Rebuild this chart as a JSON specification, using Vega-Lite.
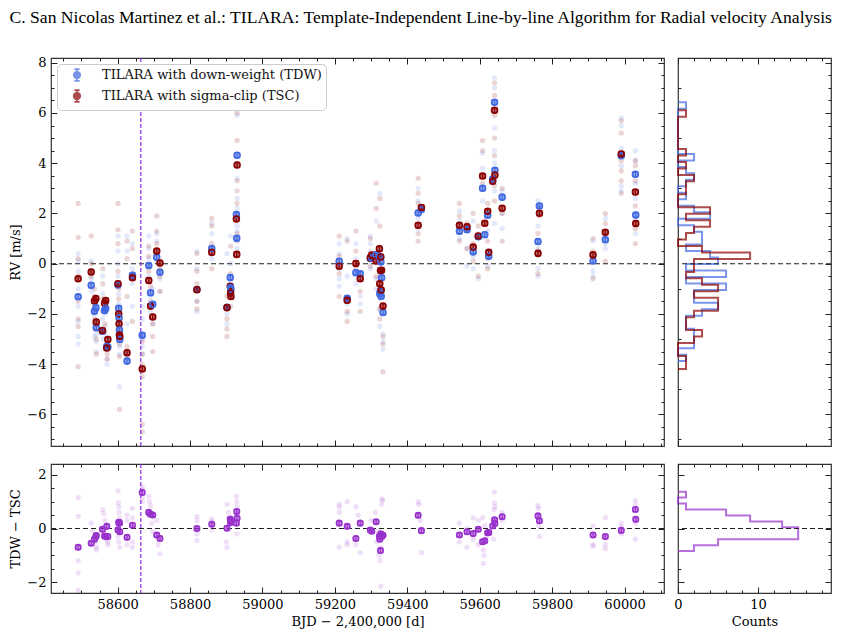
{
  "$schema": "https://vega.github.io/schema/vega-lite/v6.json",
  "padding": {"left": 8, "top": 8, "right": 5, "bottom": 5},
  "title": {"text": "C. San Nicolas Martinez et al.: TILARA: Template-Independent Line-by-line Algorithm for Radial velocity Analysis", "font": "Liberation Serif", "fontSize": 17.6, "fontWeight": "normal", "color": "#000", "anchor": "middle", "frame": "bounds", "offset": 30},
  "config": {
    "view": {"stroke": "#333", "strokeWidth": 1.2},
    "axis": {"domain": false, "grid": false, "labelFont": "DejaVu Serif", "labelFontSize": 13, "labelColor": "#000", "titleFont": "DejaVu Serif", "titleFontSize": 13, "titleFontWeight": "normal", "titleColor": "#000", "tickColor": "#222", "tickWidth": 1, "labelPadding": 11, "format": "d", "labelOverlap": false, "labelFlush": false},
    "legend": {"labelFont": "DejaVu Serif", "labelFontSize": 13, "labelColor": "#111", "labelLimit": 400}
  },
  "resolve": {"scale": {"color": "independent"}, "legend": {"color": "independent"}},
  "datasets": {
    "bin": [
      {"t":58491,"TDW":-1.32,"TSC":-0.60,"e":0.1,"d":-0.70,"ed":0.08},
      {"t":58527,"TDW":-0.86,"TSC":-0.33,"e":0.1,"d":-0.55,"ed":0.08},
      {"t":58536,"TDW":-1.89,"TSC":-1.49,"e":0.1,"d":-0.40,"ed":0.08},
      {"t":58540,"TDW":-1.76,"TSC":-1.39,"e":0.1,"d":-0.30,"ed":0.08},
      {"t":58541,"TDW":-2.55,"TSC":-2.32,"e":0.1,"d":-0.26,"ed":0.08},
      {"t":58558,"TDW":-2.69,"TSC":-2.66,"e":0.1,"d":-0.03,"ed":0.08},
      {"t":58564,"TDW":-1.86,"TSC":-1.58,"e":0.1,"d":-0.28,"ed":0.08},
      {"t":58567,"TDW":-1.78,"TSC":-1.47,"e":0.1,"d":-0.30,"ed":0.08},
      {"t":58573,"TDW":-3.32,"TSC":-3.02,"e":0.1,"d":-0.30,"ed":0.08},
      {"t":58570,"TDW":-3.30,"TSC":-3.36,"e":0.1,"d":0.08,"ed":0.08},
      {"t":58601,"TDW":-0.85,"TSC":-0.80,"e":0.1,"d":-0.05,"ed":0.08},
      {"t":58603,"TDW":-1.78,"TSC":-2.00,"e":0.1,"d":0.22,"ed":0.08},
      {"t":58604,"TDW":-2.16,"TSC":-2.39,"e":0.1,"d":0.23,"ed":0.08},
      {"t":58605,"TDW":-2.64,"TSC":-2.84,"e":0.1,"d":0.20,"ed":0.08},
      {"t":58606,"TDW":-3.02,"TSC":-2.90,"e":0.1,"d":-0.12,"ed":0.08},
      {"t":58626,"TDW":-3.88,"TSC":-3.55,"e":0.1,"d":-0.33,"ed":0.08},
      {"t":58641,"TDW":-0.46,"TSC":-0.56,"e":0.1,"d":0.12,"ed":0.08},
      {"t":58668,"TDW":-2.85,"TSC":-4.19,"e":0.1,"d":1.34,"ed":0.08},
      {"t":58686,"TDW":-0.07,"TSC":-0.67,"e":0.1,"d":0.60,"ed":0.08},
      {"t":58691,"TDW":-1.16,"TSC":-1.69,"e":0.1,"d":0.53,"ed":0.08},
      {"t":58697,"TDW":-1.62,"TSC":-2.12,"e":0.1,"d":0.50,"ed":0.08},
      {"t":58708,"TDW":0.26,"TSC":0.50,"e":0.1,"d":-0.24,"ed":0.08},
      {"t":58717,"TDW":-0.34,"TSC":0.03,"e":0.1,"d":-0.37,"ed":0.08},
      {"t":58819,"TDW":-1.03,"TSC":-1.04,"e":0.1,"d":0.00,"ed":0.08},
      {"t":58860,"TDW":0.60,"TSC":0.45,"e":0.1,"d":0.16,"ed":0.08},
      {"t":58902,"TDW":-1.74,"TSC":-1.75,"e":0.1,"d":0.01,"ed":0.08},
      {"t":58911,"TDW":-0.55,"TSC":-0.90,"e":0.1,"d":0.35,"ed":0.08},
      {"t":58913,"TDW":-1.03,"TSC":-1.31,"e":0.1,"d":0.28,"ed":0.08},
      {"t":58912,"TDW":-0.95,"TSC":-1.17,"e":0.1,"d":0.22,"ed":0.08},
      {"t":58930,"TDW":4.32,"TSC":3.93,"e":0.1,"d":0.38,"ed":0.08},
      {"t":58928,"TDW":1.96,"TSC":1.78,"e":0.1,"d":0.20,"ed":0.08},
      {"t":58929,"TDW":1.01,"TSC":0.37,"e":0.1,"d":0.63,"ed":0.08},
      {"t":59212,"TDW":0.10,"TSC":-0.10,"e":0.1,"d":0.20,"ed":0.08},
      {"t":59234,"TDW":-1.38,"TSC":-1.46,"e":0.1,"d":0.08,"ed":0.08},
      {"t":59258,"TDW":-0.36,"TSC":0.01,"e":0.1,"d":-0.37,"ed":0.08},
      {"t":59270,"TDW":-0.40,"TSC":-0.60,"e":0.1,"d":0.20,"ed":0.08},
      {"t":59298,"TDW":0.21,"TSC":0.24,"e":0.1,"d":-0.06,"ed":0.08},
      {"t":59302,"TDW":0.24,"TSC":0.34,"e":0.1,"d":-0.10,"ed":0.08},
      {"t":59314,"TDW":0.36,"TSC":0.11,"e":0.1,"d":0.25,"ed":0.08},
      {"t":59323,"TDW":0.30,"TSC":0.59,"e":0.1,"d":-0.29,"ed":0.08},
      {"t":59327,"TDW":0.07,"TSC":0.27,"e":0.1,"d":-0.20,"ed":0.08},
      {"t":59329,"TDW":-0.56,"TSC":-0.26,"e":0.1,"d":-0.30,"ed":0.08},
      {"t":59324,"TDW":-1.20,"TSC":-0.80,"e":0.1,"d":-0.40,"ed":0.08},
      {"t":59326,"TDW":-1.09,"TSC":-0.27,"e":0.1,"d":-0.82,"ed":0.08},
      {"t":59328,"TDW":-1.30,"TSC":-1.05,"e":0.1,"d":-0.25,"ed":0.08},
      {"t":59333,"TDW":-1.94,"TSC":-1.69,"e":0.1,"d":-0.25,"ed":0.08},
      {"t":59430,"TDW":2.02,"TSC":1.53,"e":0.1,"d":0.49,"ed":0.08},
      {"t":59439,"TDW":2.16,"TSC":2.24,"e":0.1,"d":-0.08,"ed":0.08},
      {"t":59544,"TDW":1.29,"TSC":1.53,"e":0.1,"d":-0.24,"ed":0.08},
      {"t":59565,"TDW":1.35,"TSC":1.47,"e":0.1,"d":-0.12,"ed":0.08},
      {"t":59582,"TDW":0.47,"TSC":0.66,"e":0.1,"d":-0.19,"ed":0.08},
      {"t":59596,"TDW":1.07,"TSC":1.10,"e":0.1,"d":-0.03,"ed":0.08},
      {"t":59608,"TDW":3.00,"TSC":3.49,"e":0.1,"d":-0.49,"ed":0.08},
      {"t":59614,"TDW":1.15,"TSC":1.61,"e":0.1,"d":-0.46,"ed":0.08},
      {"t":59622,"TDW":1.93,"TSC":2.09,"e":0.1,"d":-0.16,"ed":0.08},
      {"t":59625,"TDW":0.30,"TSC":0.45,"e":0.1,"d":-0.15,"ed":0.08},
      {"t":59636,"TDW":3.37,"TSC":3.28,"e":0.1,"d":0.09,"ed":0.08},
      {"t":59641,"TDW":6.43,"TSC":6.11,"e":0.1,"d":0.32,"ed":0.08},
      {"t":59642,"TDW":3.72,"TSC":3.53,"e":0.1,"d":0.19,"ed":0.08},
      {"t":59662,"TDW":2.65,"TSC":2.21,"e":0.1,"d":0.44,"ed":0.08},
      {"t":59761,"TDW":0.88,"TSC":0.41,"e":0.1,"d":0.47,"ed":0.08},
      {"t":59765,"TDW":2.30,"TSC":2.01,"e":0.1,"d":0.29,"ed":0.08},
      {"t":59913,"TDW":0.11,"TSC":0.35,"e":0.1,"d":-0.24,"ed":0.08},
      {"t":59947,"TDW":0.95,"TSC":1.25,"e":0.1,"d":-0.30,"ed":0.08},
      {"t":59991,"TDW":4.30,"TSC":4.37,"e":0.1,"d":-0.07,"ed":0.08},
      {"t":60030,"TDW":3.56,"TSC":2.85,"e":0.1,"d":0.71,"ed":0.08},
      {"t":60031,"TDW":1.94,"TSC":1.60,"e":0.1,"d":0.34,"ed":0.08}
    ],
    "faint": [
      {"t":58491,"v":0.4,"g":"TDW"},{"t":58491,"v":0.1,"g":"TDW"},{"t":58491,"v":-0.3,"g":"TDW"},{"t":58491,"v":-1.0,"g":"TDW"},{"t":58491,"v":-1.7,"g":"TDW"},{"t":58491,"v":-2.3,"g":"TDW"},{"t":58491,"v":-2.9,"g":"TDW"},{"t":58491,"v":-3.2,"g":"TDW"},
      {"t":58527,"v":0.1,"g":"TDW"},{"t":58527,"v":-0.3,"g":"TDW"},{"t":58527,"v":-0.6,"g":"TDW"},{"t":58527,"v":-1.1,"g":"TDW"},
      {"t":58536,"v":-1.4,"g":"TDW"},{"t":58536,"v":-2.0,"g":"TDW"},{"t":58536,"v":-2.4,"g":"TDW"},{"t":58536,"v":-2.9,"g":"TDW"},
      {"t":58541,"v":-1.6,"g":"TDW"},{"t":58541,"v":-2.3,"g":"TDW"},{"t":58541,"v":-2.8,"g":"TDW"},{"t":58541,"v":-3.1,"g":"TDW"},{"t":58541,"v":-3.5,"g":"TDW"},
      {"t":58559,"v":-0.5,"g":"TDW"},{"t":58559,"v":-1.2,"g":"TDW"},{"t":58559,"v":-2.2,"g":"TDW"},{"t":58559,"v":-3.0,"g":"TDW"},
      {"t":58565,"v":-1.5,"g":"TDW"},{"t":58565,"v":-2.0,"g":"TDW"},{"t":58565,"v":-2.5,"g":"TDW"},
      {"t":58571,"v":-2.9,"g":"TDW"},{"t":58571,"v":-3.4,"g":"TDW"},{"t":58571,"v":-3.8,"g":"TDW"},{"t":58571,"v":-4.0,"g":"TDW"},
      {"t":58601,"v":1.1,"g":"TDW"},{"t":58601,"v":0.5,"g":"TDW"},{"t":58601,"v":0.0,"g":"TDW"},{"t":58601,"v":-0.5,"g":"TDW"},
      {"t":58603,"v":-1.2,"g":"TDW"},{"t":58603,"v":-1.6,"g":"TDW"},{"t":58603,"v":-2.4,"g":"TDW"},
      {"t":58605,"v":-2.8,"g":"TDW"},{"t":58605,"v":-3.3,"g":"TDW"},{"t":58605,"v":-3.6,"g":"TDW"},{"t":58605,"v":-4.9,"g":"TDW"},
      {"t":58626,"v":1.1,"g":"TDW"},{"t":58626,"v":0.5,"g":"TDW"},{"t":58626,"v":-2.4,"g":"TDW"},{"t":58626,"v":-3.6,"g":"TDW"},{"t":58626,"v":-3.8,"g":"TDW"},
      {"t":58641,"v":0.8,"g":"TDW"},{"t":58641,"v":-0.2,"g":"TDW"},{"t":58641,"v":-0.8,"g":"TDW"},{"t":58641,"v":-1.7,"g":"TDW"},
      {"t":58668,"v":-1.7,"g":"TDW"},{"t":58668,"v":-2.2,"g":"TDW"},{"t":58668,"v":-3.0,"g":"TDW"},{"t":58668,"v":-3.3,"g":"TDW"},{"t":58668,"v":-3.6,"g":"TDW"},
      {"t":58686,"v":1.1,"g":"TDW"},{"t":58686,"v":0.6,"g":"TDW"},{"t":58686,"v":0.2,"g":"TDW"},{"t":58686,"v":-0.5,"g":"TDW"},
      {"t":58691,"v":-1.3,"g":"TDW"},{"t":58691,"v":-1.9,"g":"TDW"},{"t":58697,"v":-1.0,"g":"TDW"},{"t":58697,"v":-2.4,"g":"TDW"},
      {"t":58708,"v":1.2,"g":"TDW"},{"t":58708,"v":0.9,"g":"TDW"},{"t":58708,"v":0.1,"g":"TDW"},{"t":58717,"v":-0.6,"g":"TDW"},{"t":58717,"v":-1.1,"g":"TDW"},
      {"t":58819,"v":0.5,"g":"TDW"},{"t":58819,"v":-0.2,"g":"TDW"},{"t":58819,"v":-1.5,"g":"TDW"},{"t":58819,"v":-1.9,"g":"TDW"},
      {"t":58860,"v":1.6,"g":"TDW"},{"t":58860,"v":1.2,"g":"TDW"},{"t":58860,"v":0.2,"g":"TDW"},
      {"t":58902,"v":0.4,"g":"TDW"},{"t":58902,"v":-2.0,"g":"TDW"},{"t":58902,"v":-2.4,"g":"TDW"},
      {"t":58912,"v":1.1,"g":"TDW"},{"t":58912,"v":0.0,"g":"TDW"},{"t":58912,"v":-0.7,"g":"TDW"},{"t":58912,"v":-1.3,"g":"TDW"},
      {"t":58930,"v":5.9,"g":"TDW"},{"t":58930,"v":3.4,"g":"TDW"},{"t":58930,"v":2.6,"g":"TDW"},{"t":58930,"v":2.2,"g":"TDW"},{"t":58930,"v":1.5,"g":"TDW"},{"t":58930,"v":1.3,"g":"TDW"},{"t":58930,"v":0.6,"g":"TDW"},
      {"t":59212,"v":0.8,"g":"TDW"},{"t":59212,"v":0.4,"g":"TDW"},{"t":59212,"v":-0.2,"g":"TDW"},{"t":59212,"v":-0.6,"g":"TDW"},{"t":59212,"v":-0.9,"g":"TDW"},
      {"t":59234,"v":1.0,"g":"TDW"},{"t":59234,"v":-0.5,"g":"TDW"},{"t":59234,"v":-1.6,"g":"TDW"},{"t":59234,"v":-2.0,"g":"TDW"},
      {"t":59258,"v":0.8,"g":"TDW"},{"t":59258,"v":0.2,"g":"TDW"},{"t":59258,"v":-0.8,"g":"TDW"},{"t":59270,"v":-1.3,"g":"TDW"},{"t":59270,"v":-1.6,"g":"TDW"},
      {"t":59298,"v":1.1,"g":"TDW"},{"t":59298,"v":0.8,"g":"TDW"},{"t":59298,"v":0.5,"g":"TDW"},{"t":59298,"v":-0.2,"g":"TDW"},
      {"t":59314,"v":1.7,"g":"TDW"},{"t":59314,"v":-0.6,"g":"TDW"},{"t":59314,"v":-1.0,"g":"TDW"},
      {"t":59324,"v":2.8,"g":"TDW"},{"t":59324,"v":-1.4,"g":"TDW"},{"t":59324,"v":-1.8,"g":"TDW"},{"t":59324,"v":-2.5,"g":"TDW"},
      {"t":59333,"v":-2.8,"g":"TDW"},{"t":59333,"v":-3.1,"g":"TDW"},{"t":59333,"v":-3.4,"g":"TDW"},
      {"t":59430,"v":3.0,"g":"TDW"},{"t":59430,"v":2.5,"g":"TDW"},{"t":59430,"v":1.8,"g":"TDW"},{"t":59430,"v":1.4,"g":"TDW"},
      {"t":59544,"v":2.1,"g":"TDW"},{"t":59544,"v":1.7,"g":"TDW"},{"t":59544,"v":1.0,"g":"TDW"},{"t":59565,"v":0.6,"g":"TDW"},{"t":59565,"v":-0.1,"g":"TDW"},
      {"t":59582,"v":1.7,"g":"TDW"},{"t":59582,"v":0.3,"g":"TDW"},{"t":59582,"v":-0.2,"g":"TDW"},{"t":59596,"v":1.2,"g":"TDW"},{"t":59596,"v":-0.6,"g":"TDW"},
      {"t":59608,"v":4.4,"g":"TDW"},{"t":59608,"v":3.8,"g":"TDW"},{"t":59608,"v":2.5,"g":"TDW"},
      {"t":59622,"v":1.3,"g":"TDW"},{"t":59622,"v":0.3,"g":"TDW"},{"t":59622,"v":-0.1,"g":"TDW"},
      {"t":59641,"v":7.4,"g":"TDW"},{"t":59641,"v":7.0,"g":"TDW"},{"t":59641,"v":5.4,"g":"TDW"},{"t":59641,"v":4.5,"g":"TDW"},{"t":59641,"v":4.0,"g":"TDW"},{"t":59641,"v":2.9,"g":"TDW"},{"t":59641,"v":1.6,"g":"TDW"},
      {"t":59662,"v":2.9,"g":"TDW"},{"t":59662,"v":2.0,"g":"TDW"},{"t":59662,"v":1.4,"g":"TDW"},
      {"t":59761,"v":2.5,"g":"TDW"},{"t":59761,"v":1.5,"g":"TDW"},{"t":59761,"v":0.6,"g":"TDW"},{"t":59761,"v":-0.2,"g":"TDW"},{"t":59761,"v":-0.5,"g":"TDW"},{"t":59765,"v":2.2,"g":"TDW"},
      {"t":59913,"v":0.9,"g":"TDW"},{"t":59913,"v":-0.3,"g":"TDW"},{"t":59913,"v":-0.5,"g":"TDW"},
      {"t":59947,"v":1.8,"g":"TDW"},{"t":59947,"v":0.8,"g":"TDW"},{"t":59947,"v":0.6,"g":"TDW"},
      {"t":59991,"v":5.8,"g":"TDW"},{"t":59991,"v":5.5,"g":"TDW"},{"t":59991,"v":4.6,"g":"TDW"},{"t":59991,"v":3.9,"g":"TDW"},{"t":59991,"v":3.1,"g":"TDW"},{"t":59991,"v":2.9,"g":"TDW"},
      {"t":60030,"v":4.5,"g":"TDW"},{"t":60030,"v":4.1,"g":"TDW"},{"t":60030,"v":3.2,"g":"TDW"},{"t":60030,"v":2.6,"g":"TDW"},{"t":60030,"v":1.8,"g":"TDW"},{"t":60030,"v":1.2,"g":"TDW"},
      {"t":58491,"v":2.4,"g":"TSC"},{"t":58491,"v":1.05,"g":"TSC"},{"t":58491,"v":0.2,"g":"TSC"},{"t":58491,"v":-0.5,"g":"TSC"},{"t":58491,"v":-1.5,"g":"TSC"},{"t":58491,"v":-2.2,"g":"TSC"},{"t":58491,"v":-2.5,"g":"TSC"},{"t":58491,"v":-4.1,"g":"TSC"},
      {"t":58527,"v":1.1,"g":"TSC"},{"t":58527,"v":0.0,"g":"TSC"},{"t":58527,"v":-0.5,"g":"TSC"},
      {"t":58536,"v":-1.0,"g":"TSC"},{"t":58536,"v":-1.3,"g":"TSC"},{"t":58536,"v":-1.8,"g":"TSC"},{"t":58536,"v":-2.2,"g":"TSC"},
      {"t":58541,"v":-2.6,"g":"TSC"},{"t":58541,"v":-3.0,"g":"TSC"},{"t":58541,"v":-3.6,"g":"TSC"},
      {"t":58559,"v":-0.2,"g":"TSC"},{"t":58559,"v":-0.8,"g":"TSC"},{"t":58559,"v":-1.4,"g":"TSC"},{"t":58559,"v":-1.9,"g":"TSC"},
      {"t":58565,"v":-2.4,"g":"TSC"},{"t":58565,"v":-2.7,"g":"TSC"},
      {"t":58571,"v":-3.2,"g":"TSC"},{"t":58571,"v":-3.6,"g":"TSC"},{"t":58571,"v":-3.8,"g":"TSC"},
      {"t":58601,"v":2.4,"g":"TSC"},{"t":58601,"v":1.35,"g":"TSC"},{"t":58601,"v":0.8,"g":"TSC"},{"t":58601,"v":-0.3,"g":"TSC"},
      {"t":58603,"v":-1.0,"g":"TSC"},{"t":58603,"v":-1.4,"g":"TSC"},{"t":58603,"v":-2.0,"g":"TSC"},
      {"t":58605,"v":-2.6,"g":"TSC"},{"t":58605,"v":-3.2,"g":"TSC"},{"t":58605,"v":-3.7,"g":"TSC"},{"t":58605,"v":-5.8,"g":"TSC"},
      {"t":58626,"v":0.9,"g":"TSC"},{"t":58626,"v":0.2,"g":"TSC"},{"t":58626,"v":-1.3,"g":"TSC"},{"t":58626,"v":-3.3,"g":"TSC"},{"t":58626,"v":-3.7,"g":"TSC"},
      {"t":58641,"v":1.3,"g":"TSC"},{"t":58641,"v":0.6,"g":"TSC"},{"t":58641,"v":-0.4,"g":"TSC"},{"t":58641,"v":-2.3,"g":"TSC"},
      {"t":58668,"v":-3.1,"g":"TSC"},{"t":58668,"v":-3.6,"g":"TSC"},{"t":58668,"v":-4.0,"g":"TSC"},{"t":58668,"v":-4.5,"g":"TSC"},{"t":58668,"v":-6.4,"g":"TSC"},{"t":58668,"v":-6.7,"g":"TSC"},
      {"t":58686,"v":0.7,"g":"TSC"},{"t":58686,"v":0.3,"g":"TSC"},{"t":58686,"v":-0.3,"g":"TSC"},
      {"t":58691,"v":-0.9,"g":"TSC"},{"t":58691,"v":-1.5,"g":"TSC"},{"t":58697,"v":-2.4,"g":"TSC"},{"t":58697,"v":-2.9,"g":"TSC"},{"t":58697,"v":-3.5,"g":"TSC"},
      {"t":58708,"v":1.9,"g":"TSC"},{"t":58708,"v":1.3,"g":"TSC"},{"t":58708,"v":0.8,"g":"TSC"},{"t":58717,"v":-0.2,"g":"TSC"},{"t":58717,"v":-0.5,"g":"TSC"},{"t":58717,"v":-1.1,"g":"TSC"},
      {"t":58819,"v":0.4,"g":"TSC"},{"t":58819,"v":-0.3,"g":"TSC"},{"t":58819,"v":-0.8,"g":"TSC"},{"t":58819,"v":-1.5,"g":"TSC"},{"t":58819,"v":-1.8,"g":"TSC"},
      {"t":58860,"v":1.8,"g":"TSC"},{"t":58860,"v":1.5,"g":"TSC"},{"t":58860,"v":0.8,"g":"TSC"},{"t":58860,"v":-0.2,"g":"TSC"},
      {"t":58902,"v":-1.3,"g":"TSC"},{"t":58902,"v":-2.2,"g":"TSC"},{"t":58902,"v":-2.6,"g":"TSC"},{"t":58902,"v":-2.9,"g":"TSC"},
      {"t":58912,"v":0.7,"g":"TSC"},{"t":58912,"v":-0.4,"g":"TSC"},{"t":58912,"v":-1.7,"g":"TSC"},
      {"t":58930,"v":6.0,"g":"TSC"},{"t":58930,"v":4.9,"g":"TSC"},{"t":58930,"v":3.3,"g":"TSC"},{"t":58930,"v":2.9,"g":"TSC"},{"t":58930,"v":2.4,"g":"TSC"},{"t":58930,"v":1.9,"g":"TSC"},{"t":58930,"v":1.2,"g":"TSC"},{"t":58930,"v":0.9,"g":"TSC"},
      {"t":59212,"v":1.1,"g":"TSC"},{"t":59212,"v":0.3,"g":"TSC"},{"t":59212,"v":-0.4,"g":"TSC"},{"t":59212,"v":-1.3,"g":"TSC"},
      {"t":59234,"v":0.9,"g":"TSC"},{"t":59234,"v":-1.9,"g":"TSC"},{"t":59234,"v":-2.3,"g":"TSC"},
      {"t":59258,"v":1.3,"g":"TSC"},{"t":59258,"v":0.5,"g":"TSC"},{"t":59258,"v":-0.2,"g":"TSC"},{"t":59270,"v":-1.1,"g":"TSC"},{"t":59270,"v":-1.9,"g":"TSC"},
      {"t":59298,"v":1.0,"g":"TSC"},{"t":59298,"v":0.4,"g":"TSC"},{"t":59298,"v":-0.1,"g":"TSC"},
      {"t":59314,"v":3.2,"g":"TSC"},{"t":59314,"v":2.2,"g":"TSC"},{"t":59314,"v":-0.5,"g":"TSC"},
      {"t":59324,"v":2.6,"g":"TSC"},{"t":59324,"v":1.5,"g":"TSC"},{"t":59324,"v":-1.2,"g":"TSC"},{"t":59324,"v":-1.8,"g":"TSC"},{"t":59324,"v":-2.2,"g":"TSC"},
      {"t":59333,"v":-2.9,"g":"TSC"},{"t":59333,"v":-3.2,"g":"TSC"},{"t":59333,"v":-4.3,"g":"TSC"},
      {"t":59430,"v":3.4,"g":"TSC"},{"t":59430,"v":2.8,"g":"TSC"},{"t":59430,"v":2.4,"g":"TSC"},{"t":59430,"v":1.2,"g":"TSC"},{"t":59430,"v":0.9,"g":"TSC"},
      {"t":59544,"v":2.4,"g":"TSC"},{"t":59544,"v":1.9,"g":"TSC"},{"t":59544,"v":0.9,"g":"TSC"},{"t":59565,"v":1.6,"g":"TSC"},{"t":59565,"v":0.6,"g":"TSC"},
      {"t":59582,"v":2.0,"g":"TSC"},{"t":59582,"v":0.8,"g":"TSC"},{"t":59582,"v":0.1,"g":"TSC"},{"t":59596,"v":1.5,"g":"TSC"},{"t":59596,"v":-0.5,"g":"TSC"},
      {"t":59608,"v":4.9,"g":"TSC"},{"t":59608,"v":4.5,"g":"TSC"},{"t":59608,"v":3.2,"g":"TSC"},
      {"t":59622,"v":2.4,"g":"TSC"},{"t":59622,"v":0.9,"g":"TSC"},{"t":59622,"v":0.2,"g":"TSC"},{"t":59622,"v":-0.2,"g":"TSC"},
      {"t":59641,"v":7.2,"g":"TSC"},{"t":59641,"v":6.7,"g":"TSC"},{"t":59641,"v":5.9,"g":"TSC"},{"t":59641,"v":5.0,"g":"TSC"},{"t":59641,"v":4.3,"g":"TSC"},{"t":59641,"v":3.1,"g":"TSC"},{"t":59641,"v":2.5,"g":"TSC"},
      {"t":59662,"v":3.0,"g":"TSC"},{"t":59662,"v":2.0,"g":"TSC"},{"t":59662,"v":0.9,"g":"TSC"},
      {"t":59761,"v":2.3,"g":"TSC"},{"t":59761,"v":1.2,"g":"TSC"},{"t":59761,"v":0.5,"g":"TSC"},{"t":59761,"v":-0.4,"g":"TSC"},{"t":59765,"v":1.9,"g":"TSC"},
      {"t":59913,"v":1.0,"g":"TSC"},{"t":59913,"v":0.5,"g":"TSC"},{"t":59913,"v":-0.6,"g":"TSC"},
      {"t":59947,"v":2.0,"g":"TSC"},{"t":59947,"v":1.6,"g":"TSC"},{"t":59947,"v":0.1,"g":"TSC"},
      {"t":59991,"v":5.7,"g":"TSC"},{"t":59991,"v":5.2,"g":"TSC"},{"t":59991,"v":4.1,"g":"TSC"},{"t":59991,"v":3.7,"g":"TSC"},{"t":59991,"v":3.3,"g":"TSC"},{"t":59991,"v":2.8,"g":"TSC"},
      {"t":60030,"v":4.1,"g":"TSC"},{"t":60030,"v":3.9,"g":"TSC"},{"t":60030,"v":3.3,"g":"TSC"},{"t":60030,"v":2.3,"g":"TSC"},{"t":60030,"v":1.4,"g":"TSC"},{"t":60030,"v":0.8,"g":"TSC"}
    ],
    "fdiff": [
      {"t":58491,"v":1.15},{"t":58491,"v":0.45},{"t":58491,"v":-1.2},{"t":58491,"v":-1.65},{"t":58491,"v":-2.3},
      {"t":58527,"v":0.2},{"t":58530,"v":-0.1},{"t":58536,"v":-0.3},{"t":58538,"v":-0.5},{"t":58541,"v":-0.7},{"t":58541,"v":-0.8},
      {"t":58559,"v":0.7},{"t":58562,"v":0.55},{"t":58565,"v":0.3},{"t":58567,"v":-0.2},{"t":58570,"v":-0.4},{"t":58572,"v":-0.5},{"t":58574,"v":-0.6},
      {"t":58601,"v":1.4},{"t":58602,"v":0.95},{"t":58603,"v":0.8},{"t":58604,"v":0.6},{"t":58605,"v":0.4},{"t":58601,"v":-0.3},{"t":58603,"v":-0.5},{"t":58606,"v":-0.7},
      {"t":58626,"v":0.5},{"t":58626,"v":0.3},{"t":58626,"v":-0.6},
      {"t":58641,"v":0.75},{"t":58641,"v":0.4},{"t":58641,"v":-0.5},{"t":58641,"v":-0.7},
      {"t":58668,"v":1.55},{"t":58668,"v":1.45},{"t":58668,"v":1.15},{"t":58668,"v":1.0},
      {"t":58686,"v":1.2},{"t":58688,"v":1.0},{"t":58691,"v":0.85},{"t":58694,"v":0.2},{"t":58697,"v":-0.1},
      {"t":58708,"v":0.3},{"t":58712,"v":-0.6},{"t":58717,"v":-0.95},
      {"t":58819,"v":0.45},{"t":58819,"v":0.3},{"t":58819,"v":-0.2},{"t":58819,"v":-0.45},
      {"t":58860,"v":0.35},{"t":58860,"v":0.25},{"t":58860,"v":-0.05},
      {"t":58902,"v":0.9},{"t":58906,"v":0.6},{"t":58910,"v":0.15},{"t":58900,"v":-0.5},{"t":58902,"v":-0.7},
      {"t":58928,"v":1.2},{"t":58929,"v":1.0},{"t":58930,"v":0.8},{"t":58928,"v":0.55},{"t":58930,"v":-0.2},
      {"t":59212,"v":0.9},{"t":59212,"v":0.8},{"t":59212,"v":0.6},{"t":59212,"v":-0.7},
      {"t":59234,"v":1.0},{"t":59234,"v":-0.5},{"t":59234,"v":-0.6},
      {"t":59258,"v":0.8},{"t":59264,"v":0.5},{"t":59258,"v":-0.6},{"t":59270,"v":-0.9},
      {"t":59330,"v":1.1},{"t":59332,"v":1.05},{"t":59329,"v":0.9},{"t":59312,"v":0.6},{"t":59300,"v":0.3},{"t":59320,"v":-0.1},{"t":59316,"v":-0.5},{"t":59326,"v":-0.7},{"t":59322,"v":-1.0},{"t":59325,"v":-1.2},{"t":59327,"v":-2.15},
      {"t":59430,"v":1.0},{"t":59432,"v":0.9},{"t":59436,"v":0.3},{"t":59439,"v":-0.9},
      {"t":59544,"v":0.2},{"t":59565,"v":0.0},{"t":59544,"v":-0.5},{"t":59565,"v":-0.7},
      {"t":59582,"v":0.4},{"t":59596,"v":0.3},{"t":59582,"v":-0.4},{"t":59596,"v":-0.6},
      {"t":59608,"v":0.4},{"t":59614,"v":0.1},{"t":59620,"v":-0.3},{"t":59610,"v":-0.8},{"t":59612,"v":-1.0},{"t":59610,"v":-1.3},
      {"t":59640,"v":1.35},{"t":59641,"v":0.95},{"t":59642,"v":0.8},{"t":59640,"v":0.7},{"t":59638,"v":-0.4},
      {"t":59662,"v":0.6},{"t":59662,"v":0.3},
      {"t":59761,"v":0.85},{"t":59762,"v":0.75},{"t":59763,"v":0.1},{"t":59765,"v":-0.3},
      {"t":59913,"v":0.1},{"t":59913,"v":-0.6},{"t":59913,"v":-0.65},
      {"t":59947,"v":0.4},{"t":59947,"v":-0.6},{"t":59947,"v":-0.75},
      {"t":59991,"v":0.2},{"t":59991,"v":0.05},{"t":59991,"v":-0.2},
      {"t":60030,"v":1.05},{"t":60030,"v":0.9},{"t":60030,"v":0.2},{"t":60030,"v":-0.4}
    ],
    "hb": [
      {"k":0,"lo":-3.88,"hi":-3.88,"c":0},{"k":1,"lo":-3.88,"hi":-3.622,"c":1},{"k":2,"lo":-3.622,"hi":-3.364,"c":0},
      {"k":3,"lo":-3.364,"hi":-3.107,"c":2},{"k":4,"lo":-3.107,"hi":-2.849,"c":2},{"k":5,"lo":-2.849,"hi":-2.591,"c":2},
      {"k":6,"lo":-2.591,"hi":-2.333,"c":1},{"k":7,"lo":-2.333,"hi":-2.075,"c":1},{"k":8,"lo":-2.075,"hi":-1.818,"c":3},
      {"k":9,"lo":-1.818,"hi":-1.56,"c":5},{"k":10,"lo":-1.56,"hi":-1.302,"c":2},{"k":11,"lo":-1.302,"hi":-1.044,"c":2},
      {"k":12,"lo":-1.044,"hi":-0.786,"c":6},{"k":13,"lo":-0.786,"hi":-0.529,"c":1},{"k":14,"lo":-0.529,"hi":-0.271,"c":6},
      {"k":15,"lo":-0.271,"hi":-0.013,"c":1},{"k":16,"lo":-0.013,"hi":0.245,"c":5},{"k":17,"lo":0.245,"hi":0.503,"c":4},
      {"k":18,"lo":0.503,"hi":0.76,"c":1},{"k":19,"lo":0.76,"hi":1.018,"c":3},{"k":20,"lo":1.018,"hi":1.276,"c":3},
      {"k":21,"lo":1.276,"hi":1.534,"c":2},{"k":22,"lo":1.534,"hi":1.792,"c":0},{"k":23,"lo":1.792,"hi":2.049,"c":4},
      {"k":24,"lo":2.049,"hi":2.307,"c":2},{"k":25,"lo":2.307,"hi":2.565,"c":0},{"k":26,"lo":2.565,"hi":2.823,"c":1},
      {"k":27,"lo":2.823,"hi":3.081,"c":0},{"k":28,"lo":3.081,"hi":3.338,"c":1},{"k":29,"lo":3.338,"hi":3.596,"c":2},
      {"k":30,"lo":3.596,"hi":3.854,"c":1},{"k":31,"lo":3.854,"hi":4.112,"c":0},{"k":32,"lo":4.112,"hi":4.37,"c":2},
      {"k":33,"lo":4.37,"hi":6.172,"c":0},{"k":34,"lo":6.172,"hi":6.43,"c":1},{"k":35,"lo":6.43,"hi":6.43,"c":0}
    ],
    "hr": [
      {"k":0,"lo":-4.19,"hi":-4.19,"c":0},{"k":1,"lo":-4.19,"hi":-3.933,"c":1},{"k":2,"lo":-3.933,"hi":-3.675,"c":1},
      {"k":3,"lo":-3.675,"hi":-3.16,"c":0},{"k":4,"lo":-3.16,"hi":-2.903,"c":2},{"k":5,"lo":-2.903,"hi":-2.645,"c":3},
      {"k":6,"lo":-2.645,"hi":-2.388,"c":1},{"k":7,"lo":-2.388,"hi":-2.13,"c":1},{"k":8,"lo":-2.13,"hi":-1.873,"c":2},
      {"k":9,"lo":-1.873,"hi":-1.615,"c":5},{"k":10,"lo":-1.615,"hi":-1.358,"c":5},{"k":11,"lo":-1.358,"hi":-1.1,"c":2},
      {"k":12,"lo":-1.1,"hi":-0.843,"c":5},{"k":13,"lo":-0.843,"hi":-0.585,"c":3},{"k":14,"lo":-0.585,"hi":-0.328,"c":1},
      {"k":15,"lo":-0.328,"hi":-0.07,"c":2},{"k":16,"lo":-0.07,"hi":0.1875,"c":2},{"k":17,"lo":0.1875,"hi":0.445,"c":9},
      {"k":18,"lo":0.445,"hi":0.703,"c":3},{"k":19,"lo":0.703,"hi":0.96,"c":0},{"k":20,"lo":0.96,"hi":1.218,"c":1},
      {"k":21,"lo":1.218,"hi":1.475,"c":2},{"k":22,"lo":1.475,"hi":1.733,"c":4},{"k":23,"lo":1.733,"hi":1.99,"c":1},
      {"k":24,"lo":1.99,"hi":2.248,"c":4},{"k":25,"lo":2.248,"hi":2.763,"c":0},{"k":26,"lo":2.763,"hi":3.02,"c":1},
      {"k":27,"lo":3.02,"hi":3.278,"c":1},{"k":28,"lo":3.278,"hi":3.535,"c":2},{"k":29,"lo":3.535,"hi":3.793,"c":0},
      {"k":30,"lo":3.793,"hi":4.05,"c":1},{"k":31,"lo":4.05,"hi":4.308,"c":0},{"k":32,"lo":4.308,"hi":4.565,"c":1},
      {"k":33,"lo":4.565,"hi":5.853,"c":0},{"k":34,"lo":5.853,"hi":6.11,"c":1},{"k":35,"lo":6.11,"hi":6.11,"c":0}
    ],
    "hd": [
      {"k":0,"lo":-0.84,"hi":-0.84,"c":0},{"k":1,"lo":-0.84,"hi":-0.619,"c":2},{"k":2,"lo":-0.619,"hi":-0.398,"c":5},
      {"k":3,"lo":-0.398,"hi":-0.177,"c":15},{"k":4,"lo":-0.177,"hi":0.044,"c":15},{"k":5,"lo":0.044,"hi":0.265,"c":13},
      {"k":6,"lo":0.265,"hi":0.486,"c":9},{"k":7,"lo":0.486,"hi":0.707,"c":6},{"k":8,"lo":0.707,"hi":0.928,"c":1},
      {"k":9,"lo":0.928,"hi":1.149,"c":0},{"k":10,"lo":1.149,"hi":1.37,"c":1},{"k":11,"lo":1.37,"hi":1.37,"c":0}
    ]
  },
  "columns": 2,
  "spacing": {"row": 14, "column": 7},
  "concat": [
    {
      "width": 613, "height": 388,
      "resolve": {"scale": {"x": "independent", "y": "independent"}},
      "layer": [
        {"layer": [
          {"data": {"name": "faint"}, "transform": [{"filter": "datum.g === 'TDW'"}],
           "mark": {"type": "circle", "size": 28, "opacity": 0.15, "color": "#4169e1"},
           "encoding": {
             "x": {"field": "t", "type": "quantitative", "title": null, "scale": {"domain": [58416, 60109], "nice": false, "zero": false},
                   "axis": {"orient": "bottom", "values": [58600,58800,59000,59200,59400,59600,59800,60000], "tickSize": -6, "labels": false, "title": null}},
             "y": {"field": "v", "type": "quantitative", "title": "RV [m/s]", "scale": {"domain": [-7.26, 8.19], "nice": false, "zero": false},
                   "axis": {"orient": "left", "values": [-6,-4,-2,0,2,4,6,8], "tickSize": -6, "title": "RV [m/s]", "titlePadding": 4}}
           }},
          {"data": {"name": "faint"}, "transform": [{"filter": "datum.g === 'TSC'"}],
           "mark": {"type": "circle", "size": 28, "opacity": 0.17, "color": "#8b0000"},
           "encoding": {
             "x": {"field": "t", "type": "quantitative", "title": null},
             "y": {"field": "v", "type": "quantitative", "title": "RV [m/s]"}
           }},
          {"data": {"values": [{}]}, "mark": {"type": "rule", "color": "#222", "strokeDash": [5, 3], "strokeWidth": 1.1}, "encoding": {"y": {"datum": 0}}},
          {"data": {"values": [{}]}, "mark": {"type": "rule", "color": "#8a2be2", "strokeDash": [4, 2], "strokeWidth": 1.2}, "encoding": {"x": {"datum": 58664}}},
          {"data": {"name": "bin"}, "transform": [{"fold": ["TDW", "TSC"], "as": ["s", "rv"]}],
           "mark": {"type": "errorbar", "ticks": true, "size": 6, "thickness": 1.3},
           "encoding": {
             "x": {"field": "t", "type": "quantitative", "title": null},
             "y": {"field": "rv", "type": "quantitative", "title": "RV [m/s]"},
             "yError": {"field": "e"},
             "color": {"field": "s", "type": "nominal", "scale": {"domain": ["TDW", "TSC"], "range": ["#4169e1", "#8b0000"]}}
           }},
          {"data": {"name": "bin"},
           "mark": {"type": "circle", "size": 34, "opacity": 0.55, "color": "#4169e1"},
           "encoding": {
             "x": {"field": "t", "type": "quantitative", "title": null},
             "y": {"field": "TDW", "type": "quantitative", "title": "RV [m/s]"}
           }},
          {"data": {"name": "bin"},
           "mark": {"type": "circle", "size": 34, "opacity": 0.55, "color": "#8b0000"},
           "encoding": {
             "x": {"field": "t", "type": "quantitative", "title": null},
             "y": {"field": "TSC", "type": "quantitative", "title": "RV [m/s]"}
           }},
          {"data": {"name": "bin"}, "transform": [{"fold": ["TDW", "TSC"], "as": ["s", "rv"]}],
           "mark": {"type": "point", "filled": false, "size": 34, "strokeWidth": 1.7, "opacity": 1},
           "encoding": {
             "x": {"field": "t", "type": "quantitative", "title": null},
             "y": {"field": "rv", "type": "quantitative", "title": "RV [m/s]"},
             "color": {"field": "s", "type": "nominal",
                       "legend": {"orient": "top-left", "offset": 6, "title": null, "fillColor": "white", "strokeColor": "#cccccc", "cornerRadius": 4, "padding": 4, "rowPadding": 1, "symbolOffset": 9, "labelOffset": 18, "labelLimit": 400, "symbolOpacity": 1, "symbolStrokeWidth": 1.7, "symbolSize": 140,
                                  "symbolType": "M-0.55,0A0.55,0.55 0 1,0 0.55,0A0.55,0.55 0 1,0 -0.55,0ZM0,-1L0,1M-0.45,-1L0.45,-1M-0.45,1L0.45,1",
                                  "labelExpr": "datum.label === 'TDW' ? 'TILARA with down-weight (TDW)' : 'TILARA with sigma-clip (TSC)'"}}
           }}
        ]},
        {"data": {"values": [{}]}, "mark": {"type": "point", "opacity": 0},
         "encoding": {
           "x": {"datum": 59000, "type": "quantitative", "scale": {"domain": [58416, 60109], "nice": false, "zero": false},
                 "axis": {"orient": "top", "values": [58450,58500,58550,58600,58650,58700,58750,58800,58850,58900,58950,59000,59050,59100,59150,59200,59250,59300,59350,59400,59450,59500,59550,59600,59650,59700,59750,59800,59850,59900,59950,60000,60050,60100], "tickSize": {"condition": {"test": "datum.value % 200 === 0", "value": -6}, "value": -3}, "labels": false, "title": null}},
           "y": {"datum": 0, "type": "quantitative", "scale": {"domain": [-7.26, 8.19], "nice": false, "zero": false},
                 "axis": {"orient": "right", "values": [-7,-6.5,-6,-5.5,-5,-4.5,-4,-3.5,-3,-2.5,-2,-1.5,-1,-0.5,0,0.5,1,1.5,2,2.5,3,3.5,4,4.5,5,5.5,6,6.5,7,7.5,8], "tickSize": {"condition": {"test": "datum.value % 2 === 0", "value": -6}, "value": -3}, "labels": false, "title": null}}
         }},
        {"data": {"values": [{}]}, "mark": {"type": "point", "opacity": 0},
         "encoding": {
           "x": {"datum": 59000, "type": "quantitative", "scale": {"domain": [58416, 60109], "nice": false, "zero": false},
                 "axis": {"orient": "bottom", "values": [58450,58500,58550,58650,58700,58750,58850,58900,58950,59050,59100,59150,59250,59300,59350,59450,59500,59550,59650,59700,59750,59850,59900,59950,60050,60100], "tickSize": -3, "labels": false, "title": null}},
           "y": {"datum": 0, "type": "quantitative", "scale": {"domain": [-7.26, 8.19], "nice": false, "zero": false},
                 "axis": {"orient": "left", "values": [-7,-6.5,-5.5,-5,-4.5,-3.5,-3,-2.5,-1.5,-1,-0.5,0.5,1,1.5,2.5,3,3.5,4.5,5,5.5,6.5,7,7.5], "tickSize": -3, "labels": false, "title": null}}
         }}
      ]
    },
    {
      "width": 153, "height": 388,
      "resolve": {"scale": {"x": "independent", "y": "independent"}},
      "layer": [
        {"layer": [
          {"data": {"name": "hb"}, "transform": [{"fold": ["lo", "hi"], "as": ["side", "y"]}],
           "mark": {"type": "line", "color": "#4169e1", "strokeWidth": 2, "opacity": 0.7},
           "encoding": {
             "x": {"field": "c", "type": "quantitative", "title": null, "scale": {"domain": [0, 19.1], "nice": false, "zero": false},
                   "axis": {"orient": "bottom", "values": [0,2,4,6,8,10,12,14,16,18], "tickSize": {"condition": {"test": "datum.value % 10 === 0", "value": -6}, "value": -3}, "labels": false, "title": null}},
             "y": {"field": "y", "type": "quantitative", "title": null, "scale": {"domain": [-7.26, 8.19], "nice": false, "zero": false},
                   "axis": {"orient": "left", "values": [-7,-6.5,-6,-5.5,-5,-4.5,-4,-3.5,-3,-2.5,-2,-1.5,-1,-0.5,0,0.5,1,1.5,2,2.5,3,3.5,4,4.5,5,5.5,6,6.5,7,7.5,8], "tickSize": {"condition": {"test": "datum.value % 2 === 0", "value": -6}, "value": -3}, "labels": false, "title": null}},
             "order": {"value": null}
           }},
          {"data": {"name": "hr"}, "transform": [{"fold": ["lo", "hi"], "as": ["side", "y"]}],
           "mark": {"type": "line", "color": "#8b0000", "strokeWidth": 2, "opacity": 0.7},
           "encoding": {
             "x": {"field": "c", "type": "quantitative", "title": null},
             "y": {"field": "y", "type": "quantitative", "title": null},
             "order": {"value": null}
           }},
          {"data": {"values": [{}]}, "mark": {"type": "rule", "color": "#222", "strokeDash": [5, 3], "strokeWidth": 1.1}, "encoding": {"y": {"datum": 0}}}
        ]},
        {"data": {"values": [{}]}, "mark": {"type": "point", "opacity": 0},
         "encoding": {
           "x": {"datum": 5, "type": "quantitative", "scale": {"domain": [0, 19.1], "nice": false, "zero": false},
                 "axis": {"orient": "top", "values": [0,2,4,6,8,10,12,14,16,18], "tickSize": {"condition": {"test": "datum.value % 10 === 0", "value": -6}, "value": -3}, "labels": false, "title": null}},
           "y": {"datum": 0, "type": "quantitative", "scale": {"domain": [-7.26, 8.19], "nice": false, "zero": false},
                 "axis": {"orient": "right", "values": [-7,-6.5,-6,-5.5,-5,-4.5,-4,-3.5,-3,-2.5,-2,-1.5,-1,-0.5,0,0.5,1,1.5,2,2.5,3,3.5,4,4.5,5,5.5,6,6.5,7,7.5,8], "tickSize": {"condition": {"test": "datum.value % 2 === 0", "value": -6}, "value": -3}, "labels": false, "title": null}}
         }}
      ]
    },
    {
      "width": 613, "height": 129,
      "resolve": {"scale": {"x": "independent", "y": "independent"}},
      "layer": [
        {"layer": [
          {"data": {"name": "fdiff"},
           "mark": {"type": "circle", "size": 28, "opacity": 0.15, "color": "#9932cc"},
           "encoding": {
             "x": {"field": "t", "type": "quantitative", "title": "BJD − 2,400,000 [d]", "scale": {"domain": [58416, 60109], "nice": false, "zero": false},
                   "axis": {"orient": "bottom", "values": [58600,58800,59000,59200,59400,59600,59800,60000], "tickSize": -6, "title": "BJD − 2,400,000 [d]", "titlePadding": 4}},
             "y": {"field": "v", "type": "quantitative", "title": "TDW − TSC", "scale": {"domain": [-2.4, 2.4], "nice": false, "zero": false},
                   "axis": {"orient": "left", "values": [-2,0,2], "tickSize": -6, "title": "TDW − TSC", "titlePadding": 4}}
           }},
          {"data": {"values": [{}]}, "mark": {"type": "rule", "color": "#222", "strokeDash": [5, 3], "strokeWidth": 1.1}, "encoding": {"y": {"datum": 0}}},
          {"data": {"values": [{}]}, "mark": {"type": "rule", "color": "#8a2be2", "strokeDash": [4, 2], "strokeWidth": 1.2}, "encoding": {"x": {"datum": 58664}}},
          {"data": {"name": "bin"},
           "mark": {"type": "errorbar", "ticks": true, "size": 6, "thickness": 1.3, "color": "#9932cc"},
           "encoding": {
             "x": {"field": "t", "type": "quantitative", "title": "BJD − 2,400,000 [d]"},
             "y": {"field": "d", "type": "quantitative", "title": "TDW − TSC"},
             "yError": {"field": "ed"}
           }},
          {"data": {"name": "bin"},
           "mark": {"type": "circle", "size": 30, "opacity": 0.5, "color": "#9932cc"},
           "encoding": {"x": {"field": "t", "type": "quantitative", "title": "BJD − 2,400,000 [d]"}, "y": {"field": "d", "type": "quantitative", "title": "TDW − TSC"}}},
          {"data": {"name": "bin"},
           "mark": {"type": "point", "filled": false, "size": 30, "strokeWidth": 1.6, "color": "#9932cc", "opacity": 1},
           "encoding": {"x": {"field": "t", "type": "quantitative", "title": "BJD − 2,400,000 [d]"}, "y": {"field": "d", "type": "quantitative", "title": "TDW − TSC"}}}
        ]},
        {"data": {"values": [{}]}, "mark": {"type": "point", "opacity": 0},
         "encoding": {
           "x": {"datum": 59000, "type": "quantitative", "scale": {"domain": [58416, 60109], "nice": false, "zero": false},
                 "axis": {"orient": "top", "values": [58450,58500,58550,58600,58650,58700,58750,58800,58850,58900,58950,59000,59050,59100,59150,59200,59250,59300,59350,59400,59450,59500,59550,59600,59650,59700,59750,59800,59850,59900,59950,60000,60050,60100], "tickSize": {"condition": {"test": "datum.value % 200 === 0", "value": -6}, "value": -3}, "labels": false, "title": null}},
           "y": {"datum": 0, "type": "quantitative", "scale": {"domain": [-2.4, 2.4], "nice": false, "zero": false},
                 "axis": {"orient": "right", "values": [-2,-1.5,-1,-0.5,0,0.5,1,1.5,2], "tickSize": {"condition": {"test": "datum.value % 2 === 0", "value": -6}, "value": -3}, "labels": false, "title": null}}
         }},
        {"data": {"values": [{}]}, "mark": {"type": "point", "opacity": 0},
         "encoding": {
           "x": {"datum": 59000, "type": "quantitative", "scale": {"domain": [58416, 60109], "nice": false, "zero": false},
                 "axis": {"orient": "bottom", "values": [58450,58500,58550,58650,58700,58750,58850,58900,58950,59050,59100,59150,59250,59300,59350,59450,59500,59550,59650,59700,59750,59850,59900,59950,60050,60100], "tickSize": -3, "labels": false, "title": null}},
           "y": {"datum": 0, "type": "quantitative", "scale": {"domain": [-2.4, 2.4], "nice": false, "zero": false},
                 "axis": {"orient": "left", "values": [-1.5,-1,-0.5,0.5,1,1.5], "tickSize": -3, "labels": false, "title": null}}
         }}
      ]
    },
    {
      "width": 153, "height": 129,
      "resolve": {"scale": {"x": "independent", "y": "independent"}},
      "layer": [
        {"layer": [
          {"data": {"name": "hd"}, "transform": [{"fold": ["lo", "hi"], "as": ["side", "y"]}],
           "mark": {"type": "line", "color": "#9932cc", "strokeWidth": 2, "opacity": 0.7},
           "encoding": {
             "x": {"field": "c", "type": "quantitative", "title": "Counts", "scale": {"domain": [0, 19.1], "nice": false, "zero": false},
                   "axis": {"orient": "bottom", "values": [0,10], "tickSize": -6, "title": "Counts", "titlePadding": 4}},
             "y": {"field": "y", "type": "quantitative", "title": null, "scale": {"domain": [-2.4, 2.4], "nice": false, "zero": false},
                   "axis": {"orient": "left", "values": [-2,-1.5,-1,-0.5,0,0.5,1,1.5,2], "tickSize": {"condition": {"test": "datum.value % 2 === 0", "value": -6}, "value": -3}, "labels": false, "title": null}},
             "order": {"value": null}
           }},
          {"data": {"values": [{}]}, "mark": {"type": "rule", "color": "#222", "strokeDash": [5, 3], "strokeWidth": 1.1}, "encoding": {"y": {"datum": 0}}}
        ]},
        {"data": {"values": [{}]}, "mark": {"type": "point", "opacity": 0},
         "encoding": {
           "x": {"datum": 5, "type": "quantitative", "scale": {"domain": [0, 19.1], "nice": false, "zero": false},
                 "axis": {"orient": "top", "values": [0,2,4,6,8,10,12,14,16,18], "tickSize": {"condition": {"test": "datum.value % 10 === 0", "value": -6}, "value": -3}, "labels": false, "title": null}},
           "y": {"datum": 0, "type": "quantitative", "scale": {"domain": [-2.4, 2.4], "nice": false, "zero": false},
                 "axis": {"orient": "right", "values": [-2,-1.5,-1,-0.5,0,0.5,1,1.5,2], "tickSize": {"condition": {"test": "datum.value % 2 === 0", "value": -6}, "value": -3}, "labels": false, "title": null}}
         }},
        {"data": {"values": [{}]}, "mark": {"type": "point", "opacity": 0},
         "encoding": {
           "x": {"datum": 5, "type": "quantitative", "scale": {"domain": [0, 19.1], "nice": false, "zero": false},
                 "axis": {"orient": "bottom", "values": [2,4,6,8,12,14,16,18], "tickSize": -3, "labels": false, "title": null}},
           "y": {"datum": 0, "type": "quantitative", "scale": {"domain": [-2.4, 2.4], "nice": false, "zero": false},
                 "axis": {"orient": "left", "values": [-1.5], "tickSize": -3, "labels": false, "title": null}}
         }}
      ]
    }
  ]
}
